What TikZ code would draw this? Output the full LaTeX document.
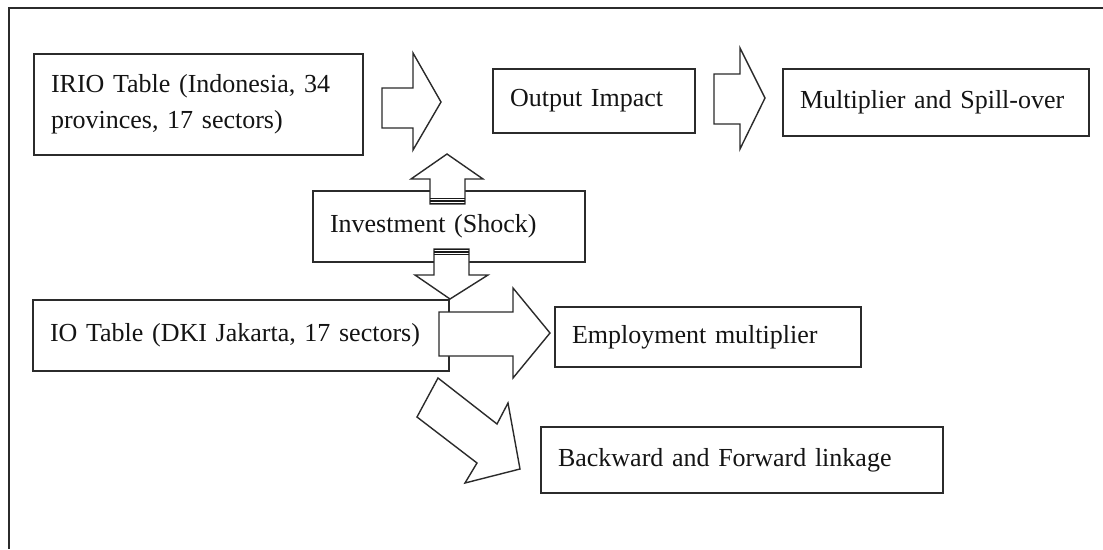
\documentclass[tikz,border=0pt]{standalone}
\usepackage{fontspec}
\setmainfont{Liberation Serif}
\definecolor{ink}{HTML}{141414}
\definecolor{frame}{HTML}{2B2B2B}

\begin{document}
\begin{tikzpicture}[
  x=1pt,y=-1pt,
  box/.style 2 args={draw=frame,line width=1.4pt,fill=white,align=left,
    text width=#1,minimum height=#2,inner xsep=17pt,inner ysep=0pt,
    font=\fontsize{26}{36}\selectfont,text=ink},
  fat/.style={draw=frame,line width=1.4pt,fill=white,line join=miter},
  bar/.style={draw=black!90,line width=1.6pt}
]
\useasboundingbox (0,0) rectangle (1103,549);
\fill[white] (0,0) rectangle (1103,549);

% outer frame (cut at right and bottom)
\draw[frame,line width=1.6pt] (1103,8) -- (9,8) -- (9,549);

% boxes
\node[box={295pt}{101pt}] (irio) at (198.5,104.5) {IRIO Table (Indonesia, 34\\provinces, 17 sectors)};
\node[box={168pt}{64pt}] (output) at (594,101) {Output Impact};
\node[box={272pt}{67pt}] (multi) at (936,102.5) {Multiplier and Spill-over};
\node[box={238pt}{71pt}] (invest) at (449,226.5) {Investment (Shock)};
\node[box={382pt}{71pt}] (io) at (241,335.5) {IO Table (DKI Jakarta, 17 sectors)};
\node[box={272pt}{60pt}] (employ) at (708,337) {Employment multiplier};
\node[box={368pt}{66pt}] (link) at (742,460) {Backward and Forward linkage};

% block arrows, top row
\draw[fat] (382,88) -- (413,88) -- (413,53) -- (441,102) -- (413,150) -- (413,128) -- (382,128) -- cycle;
\draw[fat] (714,74) -- (740,74) -- (740,48) -- (765,98) -- (740,149) -- (740,124) -- (714,124) -- cycle;

% shock up and down
\draw[fat] (430,204) -- (430,179) -- (411,179) -- (447,154) -- (483,179) -- (465,179) -- (465,204) -- cycle;
\draw[bar] (430,198.5) -- (465,198.5) (430,201) -- (465,201) (430,203.5) -- (465,203.5);
\draw[fat] (434,249) -- (469,249) -- (469,275) -- (488,275) -- (450,299) -- (415,275) -- (434,275) -- cycle;
\draw[bar] (434,249.5) -- (469,249.5) (434,252) -- (469,252) (434,254.5) -- (469,254.5);

% IO table outputs
\draw[fat] (439,312) -- (513,312) -- (513,288) -- (550,333) -- (513,378) -- (513,356) -- (439,356) -- cycle;
\draw[fat] (438,378) -- (497,424) -- (508,403) -- (520,469) -- (465,483) -- (477,463) -- (417,417) -- cycle;
\end{tikzpicture}
\end{document}
